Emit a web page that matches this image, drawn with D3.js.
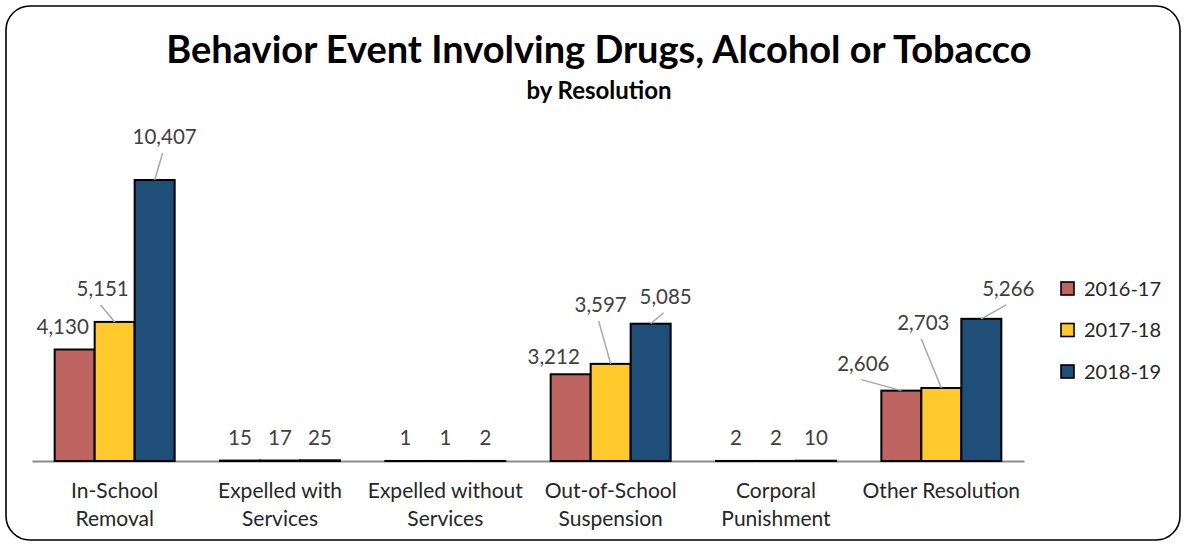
<!DOCTYPE html>
<html><head><meta charset="utf-8">
<script src="https://cdn.jsdelivr.net/npm/d3@7"></script>
<style>body{margin:0;background:#fff}svg{display:block}</style>
</head><body>
<svg id="c" width="1186" height="546"></svg>
<script>
const categories = ["In-School Removal","Expelled with Services","Expelled without Services","Out-of-School Suspension","Corporal Punishment","Other Resolution"];
const categoryLines = [["In-School","Removal"],["Expelled with","Services"],["Expelled without","Services"],["Out-of-School","Suspension"],["Corporal","Punishment"],["Other Resolution"]];
const series = ["2016-17","2017-18","2018-19"];
const v2016 = [4130, 15, 1, 3212, 2, 2606];
const v2017 = [5151, 17, 1, 3597, 2, 2703];
const v2018 = [10407, 25, 2, 5085, 10, 5266];
const values = [v2016, v2017, v2018];
const colors = ["#BE6461", "#FFC92C", "#1F4E79"];
// label offsets (dx, dy of label centre from bar top centre; leader-line flag)
const labelLayout = [
  [[-12,-23,0],[0,-23,0],[0,-23,0],[-17,-18,0],[0,-23,0],[-38,-27,1]],
  [[-12,-33,1],[0,-23,0],[0,-23,0],[-10,-59,1],[0,-23,0],[-18,-65,1]],
  [[10,-43,1],[0,-23,0],[0,-23,0],[15,-27,1],[0,-23,0],[27,-30,1]]
];

const svg = d3.select("#c");
const font = "Lato, 'Open Sans', sans-serif";

svg.append("rect").attr("x",6).attr("y",6).attr("width",1174).attr("height",534)
  .attr("rx",24).attr("ry",24).attr("fill","#fff").attr("stroke","#000").attr("stroke-width",1.6);

svg.append("text").attr("x",599).attr("y",63).attr("text-anchor","middle")
  .attr("font-family",font).attr("font-weight","bold").attr("font-size",38).attr("fill","#000")
  .text("Behavior Event Involving Drugs, Alcohol or Tobacco");
svg.append("text").attr("x",599).attr("y",99).attr("text-anchor","middle")
  .attr("font-family",font).attr("font-weight","bold").attr("font-size",24).attr("fill","#000")
  .text("by Resolution");

const x0 = d3.scaleBand().domain(categories).range([32,1024]).padding(0);
const x1 = d3.scaleBand().domain(series).range([0,x0.bandwidth()]).paddingInner(0).paddingOuter(0.567);
const y = d3.scaleLinear().domain([0,12000]).range([461,137]);

const xAxis = d3.axisBottom(x0).tickSize(0).tickFormat("");
const ax = svg.append("g").attr("transform",`translate(0,${y(0)})`).call(xAxis);
ax.select(".domain").attr("stroke","#8c8c8c").attr("stroke-width",2);

series.forEach((s,si)=>{
  const g = svg.append("g");
  g.selectAll("rect").data(values[si]).join("rect")
    .attr("x",(d,i)=>x0(categories[i])+x1(s))
    .attr("y",d=>y(d))
    .attr("width",x1.bandwidth())
    .attr("height",d=>y(0)-y(d))
    .attr("fill",colors[si]).attr("stroke","#000").attr("stroke-width",2);
});

const fmt = d3.format(",");
series.forEach((s,si)=>{
  values[si].forEach((d,i)=>{
    const bx = x0(categories[i])+x1(s)+x1.bandwidth()/2;
    const by = y(d);
    const [dx,dy,line] = labelLayout[si][i];
    const lx = bx+dx, ly = by+dy;
    if(line){
      svg.append("line").attr("x1",lx-2).attr("y1",ly+16).attr("x2",bx).attr("y2",by)
        .attr("stroke","#a6a6a6").attr("stroke-width",1.5);
    }
    svg.append("text").attr("x",lx).attr("y",ly).attr("dy","0.36em").attr("text-anchor","middle")
      .attr("font-family",font).attr("font-size",20.5).attr("fill","#404040").text(fmt(d));
  });
});

categoryLines.forEach((lines,i)=>{
  const cx = x0(categories[i])+x0.bandwidth()/2;
  lines.forEach((t,k)=>{
    svg.append("text").attr("x",cx).attr("y",498+k*27.5).attr("text-anchor","middle")
      .attr("font-family",font).attr("font-size",21).attr("fill","#262626").text(t);
  });
});

series.forEach((s,si)=>{
  const ly = 288.5+si*41.5;
  svg.append("rect").attr("x",1061).attr("y",ly-6.5).attr("width",13).attr("height",13)
    .attr("fill",colors[si]).attr("stroke","#000").attr("stroke-width",1.6);
  svg.append("text").attr("x",1084).attr("y",ly+7).
    attr("font-family",font).attr("font-size",20).attr("fill","#262626").text(s);
});
</script>
</body></html>
